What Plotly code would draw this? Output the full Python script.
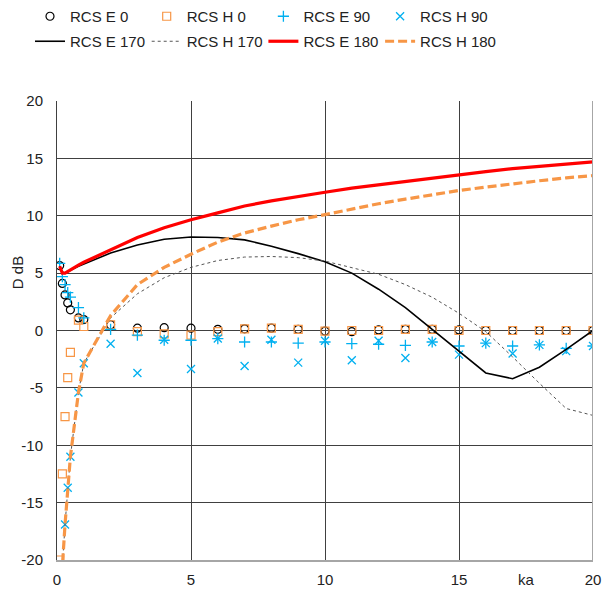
import plotly.graph_objects as go

# ---- data ----
ka = [0.1, 0.2, 0.3, 0.4, 0.5, 0.8, 1, 2, 3, 4, 5, 6, 7, 8, 9, 10,
      11, 12, 13, 14, 15, 16, 17, 18, 19, 20]

rcs_e_0 = [5.66, 4.1, 3.1, 2.4, 1.8, 1.1, 0.95, 0.5, 0.2, 0.25, 0.2, 0.1, 0.15, 0.2, 0.1, -0.05,
           -0.1, 0.05, 0.1, 0.1, 0.05, 0.0, 0.0, 0.0, 0.0, 0.0]
rcs_h_0 = [-20, -12.5, -7.5, -4.1, -1.9, 0.9, 0.35, 0.5, -0.1, -0.3, -0.4, -0.1, 0.15, 0.2, 0.1, -0.05,
           0.0, 0.0, 0.1, 0.1, 0.0, 0.0, 0.0, 0.0, 0.0, 0.0]
rcs_e_90 = [5.85, 4.7, 4.0, 3.3, 2.9, 2.0, 1.1, 0.1, -0.4, -0.85, -0.85, -0.7, -1.0, -1.0, -1.1, -1.0,
            -1.15, -1.2, -1.3, -1.0, -1.35, -1.1, -1.35, -1.25, -1.55, -1.35]
rcs_h_90 = [None, None, -16.9, -13.7, -11.0, -5.4, -2.85, -1.15, -3.7, -0.8, -3.35, -0.7, -3.1, -0.8, -2.8, -0.9,
            -2.6, -0.9, -2.4, -1.0, -2.1, -1.1, -2.0, -1.25, -1.8, -1.35]
rcs_e_170 = [5.6, 5.1, 5.0, 5.1, 5.25, 5.6, 5.8, 6.75, 7.45, 7.95, 8.15, 8.1, 7.9, 7.35, 6.7, 6.0,
             5.0, 3.6, 2.0, 0.1, -1.8, -3.7, -4.2, -3.2, -1.65, 0.0]
rcs_h_170 = [-27, -20.6, -16.9, -13.7, -11.0, -5.4, -2.85, 1.1, 3.2, 4.6, 5.5, 6.1, 6.4, 6.45, 6.35, 6.05,
             5.5, 4.9, 4.0, 2.9, 1.5, -0.1, -2.3, -4.6, -6.8, -7.4]
rcs_e_180 = [5.6, 5.0, 5.0, 5.15, 5.3, 5.7, 5.95, 7.0, 8.1, 8.95, 9.65, 10.25, 10.85, 11.3, 11.7, 12.05,
             12.4, 12.7, 13.0, 13.3, 13.6, 13.85, 14.1, 14.3, 14.5, 14.7]
rcs_h_180 = [-27, -20.6, -16.9, -13.7, -11.0, -5.4, -2.85, 1.3, 4.0, 5.5, 6.65, 7.7, 8.5, 9.1, 9.65, 10.1,
             10.6, 11.05, 11.45, 11.85, 12.2, 12.5, 12.8, 13.05, 13.3, 13.5]

x_ticks = [0, 5, 10, 15, 20]
y_ticks = [-20, -15, -10, -5, 0, 5, 10, 15, 20]

BLUE = "#00B0F0"
ORANGE = "#F79646"
FONT = "Arial, Liberation Sans, sans-serif"
TXT = "#222222"

W, H = 603, 592
ML, MR, MT, MB = 57, 10, 101, 32
PW, PH = W - ML - MR, H - MT - MB

fig = go.Figure()
fig.add_trace(go.Scatter(x=ka, y=rcs_e_0, mode="markers", name="RCS E 0", legend="legend",
                         marker=dict(symbol="circle-open", size=8, color="#000000", line=dict(width=1.2))))
fig.add_trace(go.Scatter(x=ka, y=rcs_h_0, mode="markers", name="RCS H 0", legend="legend",
                         marker=dict(symbol="square-open", size=8, color=ORANGE, line=dict(width=1.2))))
fig.add_trace(go.Scatter(x=ka, y=rcs_e_90, mode="markers", name="RCS E 90", legend="legend",
                         marker=dict(symbol="cross-thin-open", size=8, color=BLUE, line=dict(width=1.3, color=BLUE))))
fig.add_trace(go.Scatter(x=ka, y=rcs_h_90, mode="markers", name="RCS H 90", legend="legend",
                         marker=dict(symbol="x-thin-open", size=8, color=BLUE, line=dict(width=1.3, color=BLUE))))
fig.add_trace(go.Scatter(x=ka, y=rcs_e_170, mode="lines", name="RCS E 170", legend="legend2",
                         line=dict(color="#000000", width=1.6)))
fig.add_trace(go.Scatter(x=ka, y=rcs_h_170, mode="lines", name="RCS H 170", legend="legend2",
                         line=dict(color="#555555", width=1, dash="dot")))
fig.add_trace(go.Scatter(x=ka, y=rcs_e_180, mode="lines", name="RCS E 180", legend="legend2",
                         line=dict(color="#FF0000", width=3.2)))
fig.add_trace(go.Scatter(x=ka, y=rcs_h_180, mode="lines", name="RCS H 180", legend="legend2",
                         line=dict(color=ORANGE, width=3.2, dash="9px,4px")))

legend_common = dict(orientation="h", xref="paper", yref="paper",
                     x=(30 - ML) / PW, xanchor="left", yanchor="top",
                     entrywidth=71.7, entrywidthmode="pixels",
                     font=dict(family=FONT, size=15, color=TXT),
                     bgcolor="rgba(0,0,0,0)", borderwidth=0)

fig.update_layout(
    width=W, height=H,
    margin=dict(l=ML, r=MR, t=MT, b=MB, autoexpand=False),
    paper_bgcolor="white", plot_bgcolor="white",
    font=dict(family=FONT, size=15, color=TXT),
    showlegend=True,
    legend=dict(legend_common, y=1 + (MT - 0) / PH),
    legend2=dict(legend_common, y=1 + (MT - 25) / PH),
    xaxis=dict(range=[0, 20], tickvals=x_ticks, ticktext=[str(v) for v in x_ticks],
               showgrid=True, gridcolor="#404040", gridwidth=1,
               zeroline=False, showline=True, linecolor="#A6A6A6", linewidth=2,
               ticks="", ticklabelstandoff=5, tickfont=dict(size=15)),
    yaxis=dict(range=[-20, 20], tickvals=y_ticks, ticktext=[str(v) for v in y_ticks],
               showgrid=True, gridcolor="#404040", gridwidth=1,
               zeroline=False, showline=True, linecolor="#404040", linewidth=1,
               ticks="", ticklabelstandoff=10, tickfont=dict(size=15)),
    shapes=[dict(type="line", xref="x", yref="y", x0=20, x1=20, y0=-20, y1=20,
                 line=dict(color="#A6A6A6", width=2), layer="above")],
    annotations=[
        dict(text="ka", x=17.5, xref="x", y=0, yref="paper", yanchor="top",
             yshift=-9, showarrow=False, font=dict(family=FONT, size=15, color=TXT)),
        dict(text="D dB", x=0, xref="paper", y=5, yref="y", xanchor="center",
             xshift=-40, textangle=-90, showarrow=False,
             font=dict(family=FONT, size=15, color=TXT)),
    ],
)

fig.write_html("out.html",
               config={"displayModeBar": False},
               post_script="document.body.style.margin='0';document.body.style.overflow='hidden';")
